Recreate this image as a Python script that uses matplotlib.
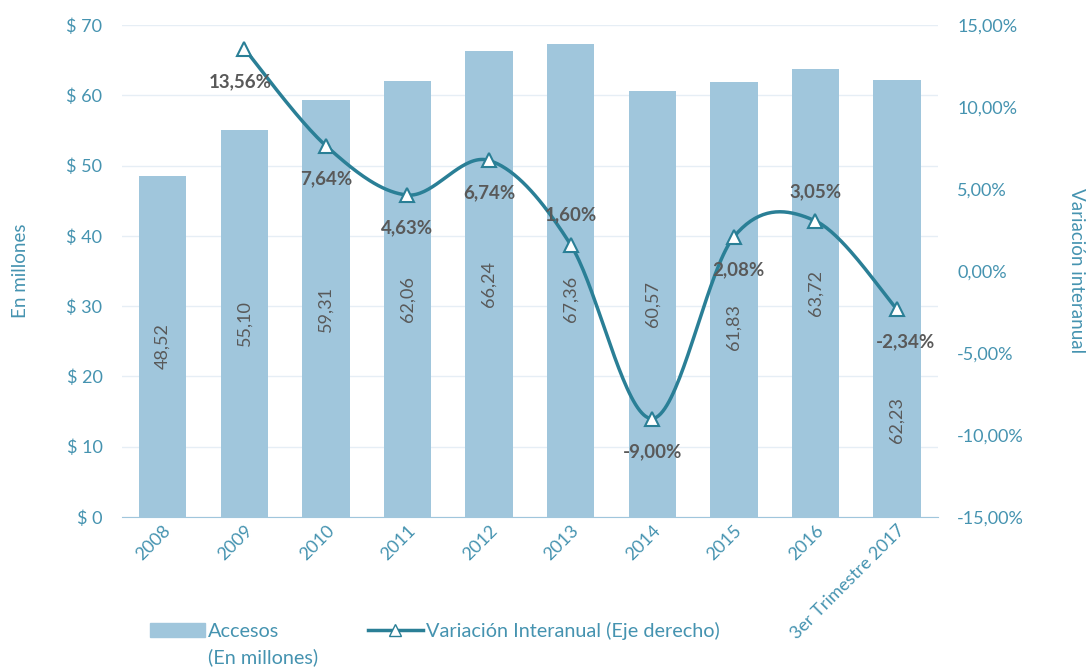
import numpy as np
import matplotlib
matplotlib.use("Agg")
import matplotlib.pyplot as plt
from matplotlib.ticker import FuncFormatter
from matplotlib.patches import Patch
from matplotlib.lines import Line2D

categorias = ["2008", "2009", "2010", "2011", "2012", "2013", "2014", "2015", "2016",
              "3er Trimestre 2017"]
accesos = [48.52, 55.10, 59.31, 62.06, 66.24, 67.36, 60.57, 61.83, 63.72, 62.23]
var_cats = categorias[1:]
variacion = [13.56, 7.64, 4.63, 6.74, 1.60, -9.00, 2.08, 3.05, -2.34]

plt.rcParams['font.family'] = ['Lato', 'DejaVu Sans']

azul_txt = '#4593B0'
barra = '#A0C6DC'
linea = '#2A7F96'
gris = '#595959'

fig = plt.figure(figsize=(10.88, 6.67), dpi=100)
ax = fig.add_axes([0.112, 0.225, 0.75, 0.7375])
ax2 = ax.twinx()

x = np.arange(len(categorias))
ax.bar(x, accesos, width=0.58, color=barra, zorder=2)
ax.set_ylim(0, 70)
ax.set_xlim(-0.5, len(categorias) - 0.5)
ax.set_yticks(range(0, 71, 10))
ax.yaxis.set_major_formatter(FuncFormatter(lambda v, p: "$ %d" % v))
ax.grid(axis='y', color='#E6EEF5', lw=1, zorder=0)
ax.set_axisbelow(True)
for s in ax.spines.values():
    s.set_visible(False)
for s in ax2.spines.values():
    s.set_visible(False)
ax.spines['bottom'].set_visible(True)
ax.spines['bottom'].set_color(barra)
ax.tick_params(axis='y', length=0, colors=azul_txt, labelsize=13, pad=14)
ax.tick_params(axis='x', length=0, colors=azul_txt, labelsize=13, pad=4)
ax.set_xticks(x)
ax.set_xticklabels(categorias, rotation=45, ha='right', rotation_mode='anchor')
ax.set_ylabel("En millones", color=azul_txt, fontsize=13.5, labelpad=27)

# bar label heights (Excel shifted a few to avoid overlaps)
pos_etiqueta = [v / 2 for v in accesos]
pos_etiqueta[5] = 31.0
pos_etiqueta[7] = 27.0
pos_etiqueta[9] = 13.8
for xi, v, yp in zip(x, accesos, pos_etiqueta):
    ax.text(xi, yp, ("%.2f" % v).replace('.', ','), rotation=90, ha='center',
            va='center', color=gris, fontsize=13, zorder=4)

ax2.set_ylim(-15, 15)
ax2.set_yticks(range(-15, 16, 5))
ax2.yaxis.set_major_formatter(FuncFormatter(lambda v, p: ("%.2f%%" % v).replace('.', ',')))
ax2.tick_params(axis='y', length=0, colors=azul_txt, labelsize=13, pad=14)
ax2.set_ylabel("Variación interanual", color=azul_txt, fontsize=13.5, rotation=270,
               labelpad=44)

# smoothed line (Excel-style Catmull-Rom in display space)
xv = np.arange(1, len(categorias))
fig.canvas.draw()
pts = ax2.transData.transform(np.column_stack([xv, variacion]))
P = np.vstack([pts[0], pts, pts[-1]])
curve = []
t = np.linspace(0, 1, 40)[:, None]
for i in range(1, len(P) - 2):
    p0, p1, p2, p3 = P[i - 1], P[i], P[i + 1], P[i + 2]
    c1 = p1 + (p2 - p0) / 6
    c2 = p2 - (p3 - p1) / 6
    seg = (1 - t) ** 3 * p1 + 3 * (1 - t) ** 2 * t * c1 + 3 * (1 - t) * t ** 2 * c2 + t ** 3 * p2
    curve.append(seg)
curve = ax2.transData.inverted().transform(np.vstack(curve))
ax2.plot(curve[:, 0], curve[:, 1], color=linea, lw=2.5, zorder=3)
ax2.plot(xv, variacion, ls='none', marker='^', ms=10, mfc='white', mec=linea,
         mew=1.5, zorder=4)

offsets = [(-0.05, -2.0), (0, -2.0), (0, -2.0), (0, -2.0), (0, 1.8),
           (0, -2.0), (0.05, -2.0), (0, 1.8), (0.1, -2.0)]
for xi, v, (dx, dy) in zip(xv, variacion, offsets):
    ax2.text(xi + dx, v + dy, ("%.2f%%" % v).replace('.', ','), ha='center', va='center',
             color=gris, fontsize=13.5, fontweight='bold', zorder=5)

handles = [Patch(color=barra), Line2D([], [], color=linea, lw=2.5, marker='^', ms=8,
                                      mfc='white', mec=linea)]
leg = fig.legend(handles, ["Accesos", "Variación Interanual (Eje derecho)"],
                 loc='center left', bbox_to_anchor=(0.1305, 0.054), ncol=2, frameon=False,
                 fontsize=14.3, labelcolor=azul_txt, handlelength=2.75, handletextpad=0.15,
                 columnspacing=4.5, borderaxespad=0)
fig.canvas.draw()
bb = leg.get_texts()[0].get_window_extent().transformed(fig.transFigure.inverted())
fig.text(bb.x0, bb.y0 - 0.012, "(En millones)", ha='left', va='top',
         fontsize=14.3, color=azul_txt)

fig.savefig("out.png", dpi=100)
